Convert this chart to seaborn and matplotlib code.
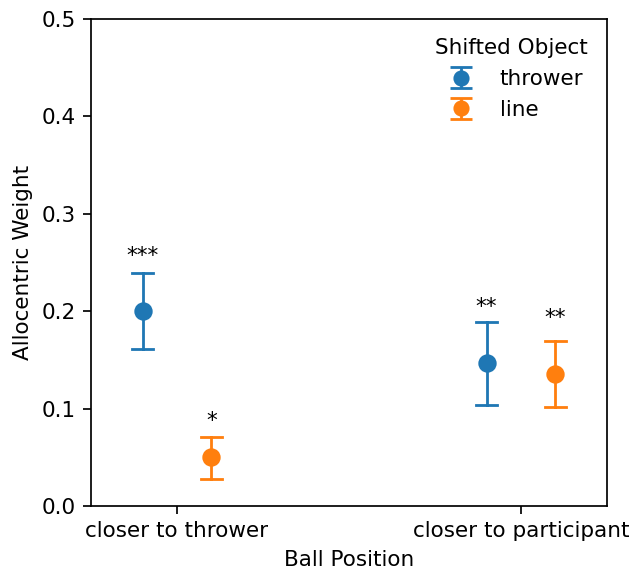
import numpy as np
import pandas as pd
import matplotlib
matplotlib.use("Agg")
import matplotlib.pyplot as plt
import seaborn as sns

positions = ["closer to thrower", "closer to participant"]
shifted = ["thrower", "line"]

# mean, lower and upper bound of the error bars, per position, per shifted object
mean_thrower = [0.200, 0.147]
low_thrower = [0.161, 0.104]
high_thrower = [0.239, 0.189]

mean_line = [0.050, 0.136]
low_line = [0.028, 0.102]
high_line = [0.071, 0.169]

stars_thrower = ["***", "**"]
stars_line = ["*", "**"]
star_y_thrower = [0.251, 0.198]
star_y_line = [0.081, 0.187]

colors = ["#1f77b4", "#ff7f0e"]
DPI = 155
FS = 10

rows = []
for obj, lo, mu, hi in [
    ("thrower", low_thrower, mean_thrower, high_thrower),
    ("line", low_line, mean_line, high_line),
]:
    for i, pos in enumerate(positions):
        for v in (lo[i], mu[i], hi[i]):
            rows.append({"Ball Position": pos, "Shifted Object": obj, "Allocentric Weight": v})
df = pd.DataFrame(rows)

fig = plt.figure(figsize=(630 / DPI, 570 / DPI), dpi=DPI)
ax = fig.add_axes([0.1444, 0.1123, 0.8191, 0.8544])

dodge = 0.2
sns.pointplot(
    data=df,
    x="Ball Position",
    y="Allocentric Weight",
    hue="Shifted Object",
    order=positions,
    hue_order=shifted,
    palette=colors,
    estimator="median",
    errorbar=lambda v: (v.min(), v.max()),
    dodge=dodge,
    linestyle="none",
    capsize=0.063,
    markersize=6.5,
    err_kws={"linewidth": 1.3},
    legend=False,
    ax=ax,
)

# significance stars
for j, (stars, ys) in enumerate([(stars_thrower, star_y_thrower), (stars_line, star_y_line)]):
    off = -dodge / 2 + dodge * j
    for i in range(len(positions)):
        ax.text(i + off, ys[i], stars[i], ha="center", va="baseline", fontsize=FS)

ax.set_xlim(-0.25, 1.25)
ax.set_ylim(0, 0.5)
ax.set_yticks(np.arange(0, 0.51, 0.1))
ax.set_yticklabels([f"{t:.1f}" for t in np.arange(0, 0.51, 0.1)])
ax.tick_params(labelsize=FS)
ax.set_xlabel("Ball Position", fontsize=FS)
ax.set_ylabel("Allocentric Weight", fontsize=FS)

# legend proxies drawn as errorbars
handles = []
for c, name in zip(colors, shifted):
    h = ax.errorbar([np.nan], [np.nan], yerr=[np.nan], fmt="o", color=c,
                    markersize=6.5, capsize=5, elinewidth=1.3, capthick=1.3, label=name)
    handles.append(h)
ax.legend(handles=handles, labels=shifted, title="Shifted Object", frameon=False,
          loc="upper right", fontsize=FS, title_fontsize=FS)

fig.savefig("out.png", dpi=DPI)
